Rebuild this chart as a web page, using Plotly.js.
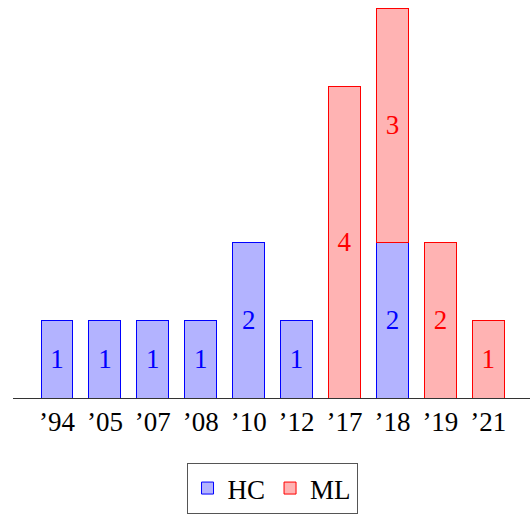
<!DOCTYPE html>
<html>
<head>
<meta charset="utf-8">
<script src="https://cdn.plot.ly/plotly-3.0.1.min.js"></script>
<style>html,body{margin:0;padding:0;background:#fff;}</style>
</head>
<body>
<div id="chart" style="width:530px;height:514px;"></div>
<script>
const years = ["’94","’05","’07","’08","’10","’12","’17","’18","’19","’21"];
const hcValues = [1,1,1,1,2,1,null,2,null,null];
const mlValues = [null,null,null,null,null,null,4,3,2,1];

const font = "Times New Roman, Liberation Serif, Tinos, serif";
function labels(vals){ return vals.map(v => v ? String(v) : ""); }

const traces = [
  {
    type: "bar", name: "HC", x: years, y: hcValues,
    text: labels(hcValues), textposition: "inside", insidetextanchor: "middle",
    textangle: 0, constraintext: "none",
    textfont: {family: font, size: 27, color: "#0000ff"},
    marker: {color: "rgb(179,179,255)", line: {color: "#0000ff", width: 1}},
    hoverinfo: "skip"
  },
  {
    type: "bar", name: "ML", x: years, y: mlValues,
    text: labels(mlValues), textposition: "inside", insidetextanchor: "middle",
    textangle: 0, constraintext: "none",
    textfont: {family: font, size: 27, color: "#ff0000"},
    marker: {color: "rgb(255,179,179)", line: {color: "#ff0000", width: 1}},
    hoverinfo: "skip"
  }
];

const layout = {
  width: 530, height: 514,
  margin: {l: 13, r: 0, t: 0, b: 115},
  barmode: "stack",
  bargap: 0.333,
  paper_bgcolor: "#fff", plot_bgcolor: "#fff",
  font: {family: font, size: 27, color: "#000"},
  uniformtext: {mode: "show", minsize: 27},
  xaxis: {
    type: "category", range: [-0.918, 9.87],
    showgrid: false, zeroline: false,
    showline: true, linecolor: "#333", linewidth: 1,
    ticks: "", ticklabelstandoff: 0,
    tickfont: {family: font, size: 27, color: "#000"}
  },
  yaxis: {
    range: [0, 5.109], visible: false, showgrid: false, zeroline: false
  },
  showlegend: true,
  legend: {
    orientation: "h", x: 0.501, xanchor: "center", y: -0.163, yanchor: "top",
    bordercolor: "#555", borderwidth: 1, bgcolor: "#fff",
    font: {family: font, size: 27, color: "#000"},
    traceorder: "normal", itemwidth: 30
  }
};

Plotly.newPlot("chart", traces, layout, {staticPlot: true, displayModeBar: false});
</script>
</body>
</html>
